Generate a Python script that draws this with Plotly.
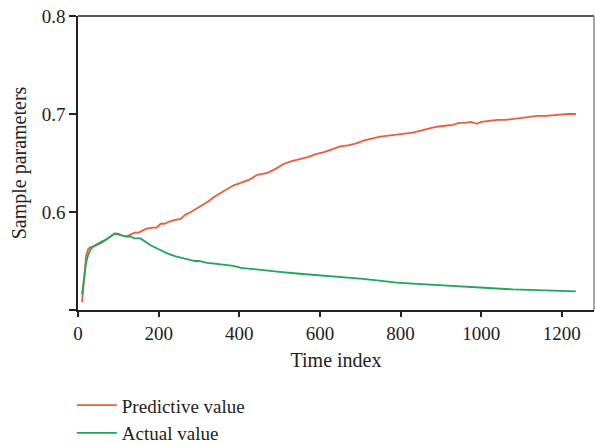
import plotly.graph_objects as go

pred_x = [10, 15, 20, 25, 30, 40, 50, 60, 70, 80, 90, 100, 110, 120, 130, 140, 150, 160, 170, 185, 195,
          205, 215, 225, 240, 255, 265, 280, 300, 320, 340, 360, 385, 405, 425, 445, 470, 490, 510, 530,
          550, 570, 590, 610, 630, 650, 670, 690, 710, 730, 750, 770, 790, 810, 830, 850, 870, 890, 910,
          930, 945, 960, 975, 990, 1000, 1015, 1040, 1060, 1080, 1100, 1120, 1140, 1160, 1180, 1200, 1215, 1235]
pred_y = [0.508, 0.535, 0.555, 0.562, 0.564, 0.565, 0.567, 0.569, 0.572, 0.575, 0.578, 0.578, 0.576, 0.575,
          0.577, 0.579, 0.579, 0.581, 0.583, 0.584, 0.584, 0.588, 0.588, 0.590, 0.592, 0.593, 0.597, 0.600,
          0.605, 0.610, 0.616, 0.621, 0.627, 0.630, 0.633, 0.638, 0.640, 0.644, 0.649, 0.652, 0.654, 0.656,
          0.659, 0.661, 0.664, 0.667, 0.668, 0.670, 0.673, 0.675, 0.677, 0.678, 0.679, 0.680, 0.681, 0.683,
          0.685, 0.687, 0.688, 0.689, 0.691, 0.691, 0.692, 0.690, 0.692, 0.693, 0.694, 0.694, 0.695, 0.696,
          0.697, 0.698, 0.698, 0.699, 0.700, 0.700, 0.700]

act_x = [10, 15, 20, 25, 30, 38, 50, 60, 70, 80, 92, 100, 110, 120, 130, 140, 155, 165, 180, 200, 220, 240,
         260, 275, 290, 300, 320, 344, 365, 385, 405, 426, 450, 470, 500, 550, 583, 620, 666, 700, 748, 790,
         831, 870, 914, 950, 996, 1040, 1079, 1120, 1162, 1200, 1235]
act_y = [0.516, 0.535, 0.548, 0.556, 0.561, 0.565, 0.568, 0.570, 0.572, 0.575, 0.578, 0.577, 0.576, 0.575,
         0.575, 0.573, 0.573, 0.570, 0.566, 0.562, 0.558, 0.555, 0.553, 0.551, 0.550, 0.550, 0.548, 0.547,
         0.546, 0.545, 0.543, 0.542, 0.541, 0.540, 0.539, 0.537, 0.536, 0.535, 0.533, 0.532, 0.530, 0.528,
         0.527, 0.526, 0.525, 0.524, 0.523, 0.522, 0.521, 0.5205, 0.520, 0.5195, 0.519]

x_ticks = [0, 200, 400, 600, 800, 1000, 1200]
y_ticks = [0.5, 0.6, 0.7, 0.8]
y_labels = ["", "0.6", "0.7", "0.8"]

FONT = "Liberation Serif"
TXT = "#222222"

fig = go.Figure()
fig.add_trace(go.Scatter(x=pred_x, y=pred_y, mode="lines", name="Predictive value",
                         line=dict(color="#F25A3C", width=1.8)))
fig.add_trace(go.Scatter(x=act_x, y=act_y, mode="lines", name="Actual value",
                         line=dict(color="#1FA65A", width=1.8)))

fig.update_layout(
    width=595, height=445,
    margin=dict(l=78, r=1, t=16, b=135, autoexpand=False),
    paper_bgcolor="white", plot_bgcolor="white",
    font=dict(family=FONT, size=19, color=TXT),
    showlegend=True,
    legend=dict(x=-0.012, y=0.132, xanchor="left", yanchor="top", yref="container",
                font=dict(family=FONT, size=19, color=TXT),
                bgcolor="rgba(0,0,0,0)", itemwidth=40, tracegroupgap=0),
    xaxis=dict(range=[0, 1280], tickvals=x_ticks, ticks="outside", ticklen=5, tickwidth=1.5,
               tickcolor=TXT, showline=True, linecolor=TXT, linewidth=1.5, automargin=False,
               tickfont=dict(family=FONT, size=19, color=TXT),
               showgrid=False, zeroline=False,
               title=dict(text="Time index", font=dict(family=FONT, size=20, color=TXT), standoff=10)),
    yaxis=dict(range=[0.5, 0.8], tickvals=y_ticks, ticktext=y_labels, ticks="outside",
               ticklen=7, tickwidth=1.5, tickcolor=TXT, showline=True, linecolor=TXT, automargin=False,
               tickfont=dict(family=FONT, size=19, color=TXT),
               linewidth=1.5, showgrid=False, zeroline=False,
               title=dict(text="Sample parameters", font=dict(family=FONT, size=20, color=TXT), standoff=10)),
    shapes=[
        dict(type="line", xref="paper", yref="paper", x0=0, x1=1, y0=1, y1=1,
             line=dict(color=TXT, width=1.5)),
        dict(type="line", xref="paper", yref="paper", x0=1, x1=1, y0=0, y1=1,
             line=dict(color="#888", width=1.5)),
    ],
)

fig.write_html("out.html")
